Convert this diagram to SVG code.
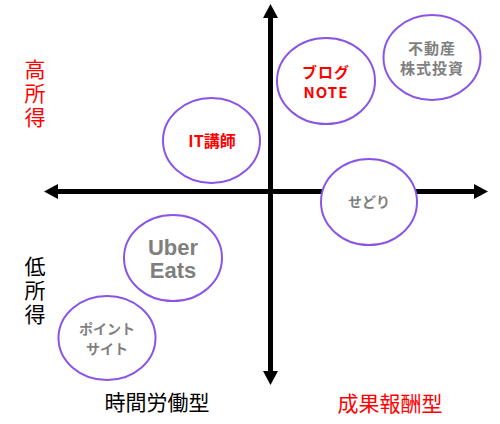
<svg xmlns="http://www.w3.org/2000/svg" width="500" height="424" viewBox="0 0 500 424">
<style>
.ax{stroke:#000;stroke-width:5;fill:none}
.ah{fill:#000}
.n ellipse{fill:#fff;stroke:#8a55e6;stroke-width:2}
text{font-family:"Noto Sans CJK JP","Noto Sans",sans-serif;text-anchor:middle}
.b{font-weight:bold}
.red{fill:#ff0000}
.gray{fill:#7f7f7f}
.lab{font-size:21px}
.two{font-size:15px;letter-spacing:1px}
.vert{writing-mode:vertical-rl;text-anchor:start;letter-spacing:3px}
</style>
<g id="axes">
<line class="ax" x1="55" y1="191.5" x2="477" y2="191.5"/>
<polygon class="ah" points="44,191.5 58,184 58,199"/>
<polygon class="ah" points="488,191.5 474,184 474,199"/>
<line class="ax" x1="270.5" y1="15" x2="270.5" y2="374"/>
<polygon class="ah" points="270.5,4 263,18 278,18"/>
<polygon class="ah" points="270.5,385 263,371 278,371"/>
</g>
<g id="n-it" class="n"><ellipse cx="211.5" cy="140.5" rx="48.5" ry="42.5"/><text x="212" y="147" class="b red" font-size="16">IT講師</text></g>
<g id="n-blog" class="n"><ellipse cx="326" cy="81" rx="49" ry="43"/><text class="b red two"><tspan x="326" y="77.5">ブログ</tspan><tspan x="326" y="98">NOTE</tspan></text></g>
<g id="n-fudosan" class="n"><ellipse cx="432" cy="57.5" rx="48.5" ry="42.5"/><text class="b gray two"><tspan x="432" y="53.5">不動産</tspan><tspan x="432" y="74">株式投資</tspan></text></g>
<g id="n-sedori" class="n"><ellipse cx="369" cy="202" rx="48" ry="43"/><text x="369" y="207" class="b gray" font-size="14">せどり</text></g>
<g id="n-uber" class="n"><ellipse cx="173" cy="258" rx="49" ry="43"/><text class="b gray" font-size="22" style="font-family:'Liberation Sans',sans-serif"><tspan x="173" y="255">Uber</tspan><tspan x="173" y="278">Eats</tspan></text></g>
<g id="n-point" class="n"><ellipse cx="107" cy="338" rx="48.5" ry="42"/><text class="b gray" font-size="14"><tspan x="107" y="334">ポイント</tspan><tspan x="107" y="354">サイト</tspan></text></g>
<g id="labels">
<text class="lab red vert" x="35" y="59">高所得</text>
<text class="lab vert" x="35" y="256">低所得</text>
<text x="157" y="410" class="lab">時間労働型</text>
<text x="390" y="411" class="lab red">成果報酬型</text>
</g>
</svg>
